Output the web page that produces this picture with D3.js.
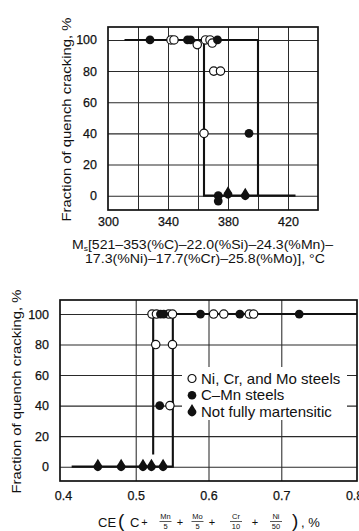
<!DOCTYPE html>
<html>
<head>
<meta charset="utf-8">
<script src="https://cdn.jsdelivr.net/npm/d3@7"></script>
<style>
  html, body { margin: 0; padding: 0; background: #fff; }
  svg { display: block; font-family: "Liberation Sans", Arial, Helvetica, sans-serif; }
</style>
</head>
<body>
<svg id="chart" width="359" height="531"></svg>
<script>
// ---- Upper panel: quench cracking vs. Ms temperature ----
const msTicks = [300, 340, 380, 420];
const msGrid = [320, 340, 360, 380, 400, 420];
const pctTicks = [0, 20, 40, 60, 80, 100];

const msOpen = [[342, 100], [344, 100], [359.5, 97], [365, 100], [368, 100], [369.5, 98],
                [370.5, 80], [375, 80], [364, 40]];
const msFilled = [[328, 100], [353, 100], [355, 100], [373, 100], [394, 40],
                  [373.5, 0], [373.5, -3.5]];
const msNotMart = [[380, 1], [391.5, 0]];
const msBoundLow = [[364, 100], [364, 0], [425, 0]];
const msBoundHigh = [[311, 100], [400, 100], [400, 0]];

// ---- Lower panel: quench cracking vs. carbon equivalent ----
const ceTicks = [0.4, 0.5, 0.6, 0.7, 0.8];
const ceGrid = [0.5, 0.6, 0.7];
const ceOpen = [[0.5224, 100], [0.5285, 100], [0.5454, 100], [0.5505, 100], [0.607, 100],
                [0.621, 100], [0.656, 100], [0.662, 100], [0.5275, 80], [0.5505, 80], [0.547, 40]];
const ceFilled = [[0.534, 100], [0.5385, 100], [0.589, 100], [0.643, 100], [0.7246, 100], [0.533, 40]];
const ceNotMart = [[0.448, 0], [0.480, 0], [0.510, 0], [0.5216, 0], [0.5376, 0]];
const ceBoundLow = [[0.524, 8], [0.524, 100], [0.804, 100]];
const ceBoundHigh = [[0.412, 0], [0.551, 0], [0.551, 100]];

const legendLabels = ["Ni, Cr, and Mo steels", "C\u2013Mn steels", "Not fully martensitic"];
const yLabel = "Fraction of quench cracking, %";
const ceFractions = [["Mn", "5"], ["Mo", "5"], ["Cr", "10"], ["Ni", "50"]];

const svg = d3.select("#chart");
const ink = "#111";
const gridInk = "#2a2a2a";

// teardrop marker: filled circle with a point on top
const notMartPath = "M0,-7.8 L3,-2.8 A4.2,4.2 0 1,1 -3,-2.8 Z";

function panel(opts) {
  const { x, y, xTicks, xGrid, xFmt, open, filled, notMart, bounds, yLabelX } = opts;
  const g = svg.append("g");
  const [x0, x1] = x.range();
  const [y0, y1] = y.range();

  // grid
  g.append("g").attr("transform", `translate(0,${y0})`)
    .call(d3.axisBottom(x).tickValues(xGrid).tickSize(-(y0 - y1)).tickFormat(""))
    .call(a => a.select(".domain").remove())
    .selectAll("line").attr("stroke", gridInk).attr("stroke-width", 1.05);
  g.append("g").attr("transform", `translate(${x0},0)`)
    .call(d3.axisLeft(y).tickValues(pctTicks).tickSize(-(x1 - x0)).tickFormat(""))
    .call(a => a.select(".domain").remove())
    .selectAll("line").attr("stroke", gridInk).attr("stroke-width", 1.05);

  // tick labels
  g.append("g").attr("transform", `translate(${x0},0)`)
    .call(d3.axisLeft(y).tickValues(pctTicks).tickSize(0).tickPadding(11))
    .call(a => a.select(".domain").remove())
    .selectAll("text").attr("font-size", 12.5).attr("fill", ink)
    .attr("stroke", ink).attr("stroke-width", 0.25)
    .attr("font-family", "Liberation Sans, Arial, sans-serif");
  g.append("g").attr("transform", `translate(0,${y0})`)
    .call(d3.axisBottom(x).tickValues(xTicks).tickSize(0).tickPadding(opts.xPad).tickFormat(xFmt))
    .call(a => a.select(".domain").remove())
    .selectAll("text").attr("font-size", 12.5).attr("fill", ink)
    .attr("stroke", ink).attr("stroke-width", 0.25)
    .attr("font-family", "Liberation Sans, Arial, sans-serif");

  // frame
  g.append("rect").attr("x", x0).attr("y", y1).attr("width", x1 - x0).attr("height", y0 - y1)
    .attr("fill", "none").attr("stroke", ink).attr("stroke-width", 1.7);

  // legend box (drawn before data)
  if (opts.legend) opts.legend(g);

  // cracking boundaries
  const line = d3.line().x(d => x(d[0])).y(d => y(d[1]));
  bounds.forEach(b => g.append("path").attr("d", line(b)).attr("fill", "none")
    .attr("stroke", ink).attr("stroke-width", 2.1));

  // data
  g.selectAll(".open").data(open).join("circle")
    .attr("cx", d => x(d[0])).attr("cy", d => y(d[1])).attr("r", 4.2)
    .attr("fill", "#fff").attr("stroke", ink).attr("stroke-width", 1.2);
  g.selectAll(".filled").data(filled).join("circle")
    .attr("cx", d => x(d[0])).attr("cy", d => y(d[1])).attr("r", 4.4).attr("fill", ink);
  g.selectAll(".nm").data(notMart).join("path")
    .attr("transform", d => `translate(${x(d[0])},${y(d[1])})`)
    .attr("d", notMartPath).attr("fill", ink);

  // y label
  g.append("text")
    .attr("transform", `translate(${yLabelX},${(y0 + y1) / 2 + 1}) rotate(-90)`)
    .attr("text-anchor", "middle").attr("font-size", 13).attr("fill", ink)
    .attr("textLength", 204).attr("lengthAdjust", "spacingAndGlyphs")
    .text(yLabel);
  return g;
}

// upper panel
const xMs = d3.scaleLinear().domain([300, 440]).range([108, 318]);
const yMs = d3.scaleLinear().domain([-9.2, 108.3]).range([210, 27]);
panel({ x: xMs, y: yMs, xTicks: msTicks, xGrid: msGrid, xFmt: d3.format("d"), xPad: 7,
        open: msOpen, filled: msFilled, notMart: msNotMart,
        bounds: [msBoundLow, msBoundHigh], yLabelX: 71 });

const msLabel1 = svg.append("text").attr("x", 72).attr("y", 249)
  .attr("font-size", 12.5).attr("fill", ink)
  .attr("textLength", 261).attr("lengthAdjust", "spacingAndGlyphs");
msLabel1.append("tspan").text("M");
msLabel1.append("tspan").attr("font-size", 7.5).attr("dy", 1.5).text("s");
msLabel1.append("tspan").attr("dy", -1.5).text("[521\u2013353(%C)\u201322.0(%Si)\u201324.3(%Mn)\u2013");
svg.append("text").attr("x", 85).attr("y", 263)
  .attr("font-size", 12.5).attr("fill", ink)
  .attr("textLength", 240).attr("lengthAdjust", "spacingAndGlyphs")
  .text("17.3(%Ni)\u201317.7(%Cr)\u201325.8(%Mo)], \u00b0C");

// lower panel
const xCe = d3.scaleLinear().domain([0.396, 0.804]).range([60, 357]);
const yCe = d3.scaleLinear().domain([-9.4, 109.2]).range([481, 300]);
panel({ x: xCe, y: yCe, xTicks: ceTicks, xGrid: ceGrid, xFmt: d3.format(".1f"), xPad: 10,
        open: ceOpen, filled: ceFilled, notMart: ceNotMart,
        bounds: [ceBoundLow, ceBoundHigh], yLabelX: 21,
        legend: g => {
          g.append("rect").attr("x", 182).attr("y", 367).attr("width", 165).attr("height", 53)
            .attr("fill", "#fff");
          const rows = g.append("g").selectAll("g").data(legendLabels).join("g")
            .attr("transform", (d, i) => `translate(192,${378.5 + i * 16.7})`);
          rows.each(function (d, i) {
            const r = d3.select(this);
            if (i === 0) r.append("circle").attr("r", 4).attr("fill", "#fff")
              .attr("stroke", ink).attr("stroke-width", 1.2);
            else if (i === 1) r.append("circle").attr("r", 4.3).attr("fill", ink);
            else r.append("path").attr("d", notMartPath).attr("fill", ink);
          });
          rows.append("text").attr("x", 9).attr("y", 5).attr("font-size", 15)
            .attr("fill", ink).text(d => d);
        } });

// CE formula label
const ce = svg.append("g").attr("fill", ink);
ce.append("text").attr("x", 98).attr("y", 527).attr("font-size", 13).text("CE");
ce.append("text").attr("x", 118).attr("y", 526.5).attr("font-size", 19).attr("font-weight", 300).text("(");
ce.append("text").attr("x", 130).attr("y", 527).attr("font-size", 13).text("C");
const fracX = [165.5, 197.5, 236, 276];
const plusX = [144.5, 180, 212, 255];
plusX.forEach(px => ce.append("text").attr("x", px).attr("y", 526).attr("font-size", 11)
  .attr("text-anchor", "middle").text("+"));
ceFractions.forEach((f, i) => {
  ce.append("text").attr("x", fracX[i]).attr("y", 519).attr("font-size", 7.5)
    .attr("text-anchor", "middle").text(f[0]);
  ce.append("line").attr("x1", fracX[i] - 6).attr("x2", fracX[i] + 6)
    .attr("y1", 521.5).attr("y2", 521.5).attr("stroke", ink).attr("stroke-width", 0.7);
  ce.append("text").attr("x", fracX[i]).attr("y", 529).attr("font-size", 7.5)
    .attr("text-anchor", "middle").text(f[1]);
});
ce.append("text").attr("x", 292).attr("y", 526.5).attr("font-size", 19).attr("font-weight", 300).text(")");
ce.append("text").attr("x", 301).attr("y", 527).attr("font-size", 13).text(", %");
</script>
</body>
</html>
